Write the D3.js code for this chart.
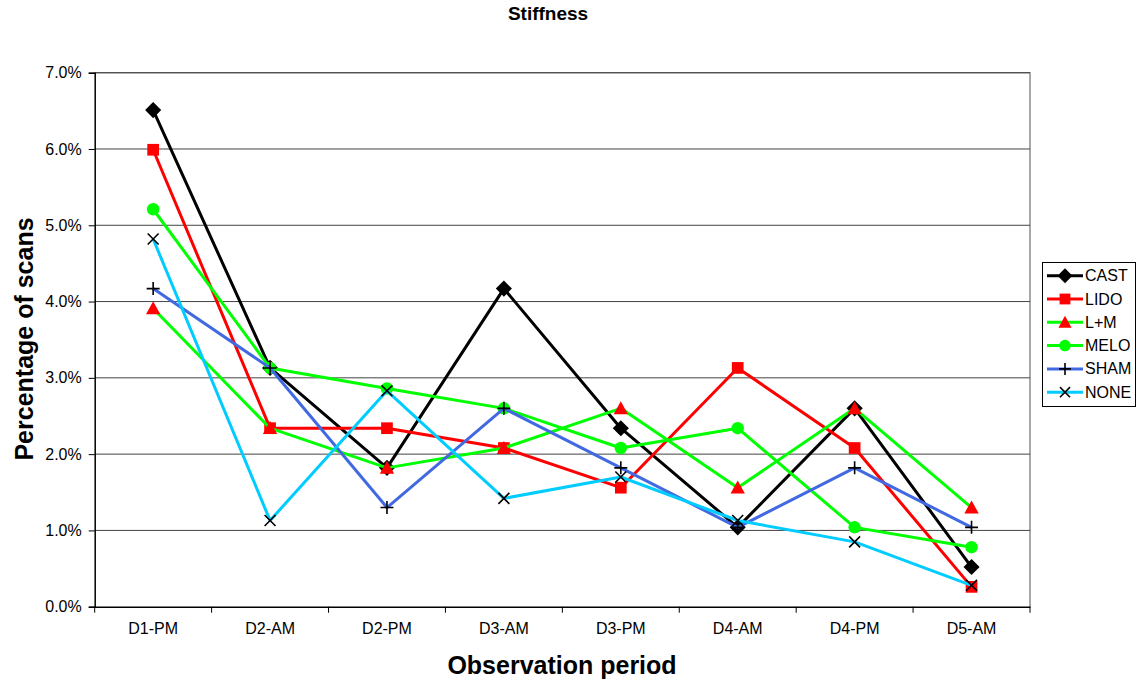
<!DOCTYPE html>
<html>
<head>
<meta charset="utf-8">
<script src="https://cdn.jsdelivr.net/npm/d3@7"></script>
<style>
  html, body { margin: 0; padding: 0; background: #fff; }
  svg { display: block; font-family: Arial, "Liberation Sans", sans-serif; }
</style>
</head>
<body>
<svg id="chart" width="1137" height="680"></svg>
<script>
// Observation periods along the x axis
const periods = ["D1-PM", "D2-AM", "D2-PM", "D3-AM", "D3-PM", "D4-AM", "D4-PM", "D5-AM"];

// Percentage of scans showing stiffness, per treatment group
const cast = [6.51, 3.13, 1.82, 4.17, 2.34, 1.04, 2.60, 0.52];
const lido = [5.99, 2.34, 2.34, 2.08, 1.56, 3.13, 2.08, 0.26];
const lm   = [3.91, 2.34, 1.82, 2.08, 2.60, 1.56, 2.60, 1.30];
const melo = [5.21, 3.13, 2.86, 2.60, 2.08, 2.34, 1.04, 0.78];
const sham = [4.17, 3.13, 1.30, 2.60, 1.82, 1.04, 1.82, 1.04];
const none = [4.82, 1.13, 2.83, 1.42, 1.70, 1.13, 0.85, 0.28];

const yTicks = [0, 1, 2, 3, 4, 5, 6, 7];

const series = [
  { name: "CAST", values: cast, line: "#000000", marker: "diamond", fill: "#000000" },
  { name: "LIDO", values: lido, line: "#FF0000", marker: "square",  fill: "#FF0000" },
  { name: "L+M",  values: lm,   line: "#00FF00", marker: "triangle", fill: "#FF0000" },
  { name: "MELO", values: melo, line: "#00FF00", marker: "circle",  fill: "#00FF00" },
  { name: "SHAM", values: sham, line: "#4169E1", marker: "plus",    fill: "#000000" },
  { name: "NONE", values: none, line: "#00CCFF", marker: "cross",   fill: "#000000" }
];

const svg = d3.select("#chart");
const plot = { left: 94.7, right: 1030, top: 72.7, bottom: 606.7 };

const x = d3.scaleBand().domain(periods).range([plot.left, plot.right]).padding(0);
const y = d3.scaleLinear().domain([0, 7]).range([plot.bottom, plot.top]);
const cx = d => x(d) + x.bandwidth() / 2;

// Plot frame (top and right edges)
svg.append("path")
  .attr("d", `M${plot.left},${plot.top}H${plot.right}V${plot.bottom}`)
  .attr("fill", "none").attr("stroke", "#8c8c8c").attr("stroke-width", 1.5);

// Horizontal gridlines
svg.append("g").selectAll("line")
  .data(yTicks.filter(t => t > 0))
  .join("line")
  .attr("x1", plot.left).attr("x2", plot.right)
  .attr("y1", d => y(d)).attr("y2", d => y(d))
  .attr("stroke", "#444").attr("stroke-width", 1);

// Y axis
const yAxis = svg.append("g")
  .attr("transform", `translate(${plot.left},0)`)
  .call(d3.axisLeft(y).tickValues(yTicks).tickFormat(d => d.toFixed(1) + "%").tickSize(6).tickPadding(7));
yAxis.select(".domain").attr("stroke", "#000").attr("stroke-width", 1.5);
yAxis.selectAll(".tick line").attr("stroke", "#000");
yAxis.selectAll("text").attr("font-size", 16).attr("fill", "#000")
  .attr("font-family", 'Arial, "Liberation Sans", sans-serif');

// X axis: ticks between categories
const xAxis = svg.append("g")
  .attr("transform", `translate(0,${plot.bottom})`)
  .call(d3.axisBottom(x).tickSize(0).tickPadding(16));
xAxis.select(".domain").attr("stroke", "#000").attr("stroke-width", 1.5);
xAxis.selectAll("text").attr("font-size", 16).attr("fill", "#000")
  .attr("font-family", 'Arial, "Liberation Sans", sans-serif');
xAxis.selectAll(".boundary")
  .data(d3.range(periods.length + 1))
  .join("line")
  .attr("x1", i => plot.left + i * x.step()).attr("x2", i => plot.left + i * x.step())
  .attr("y1", 0).attr("y2", 6)
  .attr("stroke", "#000").attr("stroke-width", 1);

// Marker shapes
function drawMarker(g, type, fill, size) {
  const s = size;
  if (type === "diamond") {
    g.append("path").attr("d", `M0,${-s * 0.62}L${s * 0.62},0L0,${s * 0.62}L${-s * 0.62},0Z`).attr("fill", fill);
  } else if (type === "square") {
    g.append("rect").attr("x", -s * 0.45).attr("y", -s * 0.45).attr("width", s * 0.9).attr("height", s * 0.9).attr("fill", fill);
  } else if (type === "triangle") {
    g.append("path").attr("d", `M0,${-s * 0.55}L${s * 0.55},${s * 0.45}L${-s * 0.55},${s * 0.45}Z`).attr("fill", fill);
  } else if (type === "circle") {
    g.append("circle").attr("r", s * 0.48).attr("fill", fill);
  } else if (type === "plus") {
    g.append("path").attr("d", `M${-s * 0.5},0H${s * 0.5}M0,${-s * 0.5}V${s * 0.5}`)
      .attr("stroke", fill).attr("stroke-width", 1.6).attr("fill", "none");
  } else if (type === "cross") {
    const r = s * 0.42;
    g.append("path").attr("d", `M${-r},${-r}L${r},${r}M${r},${-r}L${-r},${r}`)
      .attr("stroke", fill).attr("stroke-width", 1.6).attr("fill", "none");
  }
}

const line = d3.line().x((d, i) => cx(periods[i])).y(d => y(d));

const seriesG = svg.append("g");
series.forEach(s => {
  const g = seriesG.append("g");
  g.append("path")
    .attr("d", line(s.values))
    .attr("fill", "none").attr("stroke", s.line).attr("stroke-width", 3)
    .attr("stroke-linejoin", "round");
  s.values.forEach((v, i) => {
    const m = g.append("g").attr("transform", `translate(${cx(periods[i])},${y(v)})`);
    drawMarker(m, s.marker, s.fill, 13);
  });
});

// Title
svg.append("text")
  .attr("x", 548).attr("y", 20)
  .attr("text-anchor", "middle")
  .attr("font-size", 19).attr("font-weight", "bold")
  .text("Stiffness");

// Axis titles
svg.append("text")
  .attr("x", 562).attr("y", 674)
  .attr("text-anchor", "middle")
  .attr("font-size", 25).attr("font-weight", "bold")
  .text("Observation period");

svg.append("text")
  .attr("transform", "translate(33,339) rotate(-90)")
  .attr("text-anchor", "middle")
  .attr("font-size", 25).attr("font-weight", "bold")
  .text("Percentage of scans");

// Legend
const legend = svg.append("g");
legend.append("rect")
  .attr("x", 1042.5).attr("y", 262.5).attr("width", 93).attr("height", 144)
  .attr("fill", "#fff").attr("stroke", "#000").attr("stroke-width", 1);
series.forEach((s, i) => {
  const ly = 275.7 + i * 23.3;
  const row = legend.append("g");
  row.append("line").attr("x1", 1047).attr("x2", 1083).attr("y1", ly).attr("y2", ly)
    .attr("stroke", s.line).attr("stroke-width", 3);
  const m = row.append("g").attr("transform", `translate(1065,${ly})`);
  drawMarker(m, s.marker, s.fill, 12);
  row.append("text").attr("x", 1085).attr("y", ly + 5.5)
    .attr("font-size", 16).text(s.name);
});
</script>
</body>
</html>
